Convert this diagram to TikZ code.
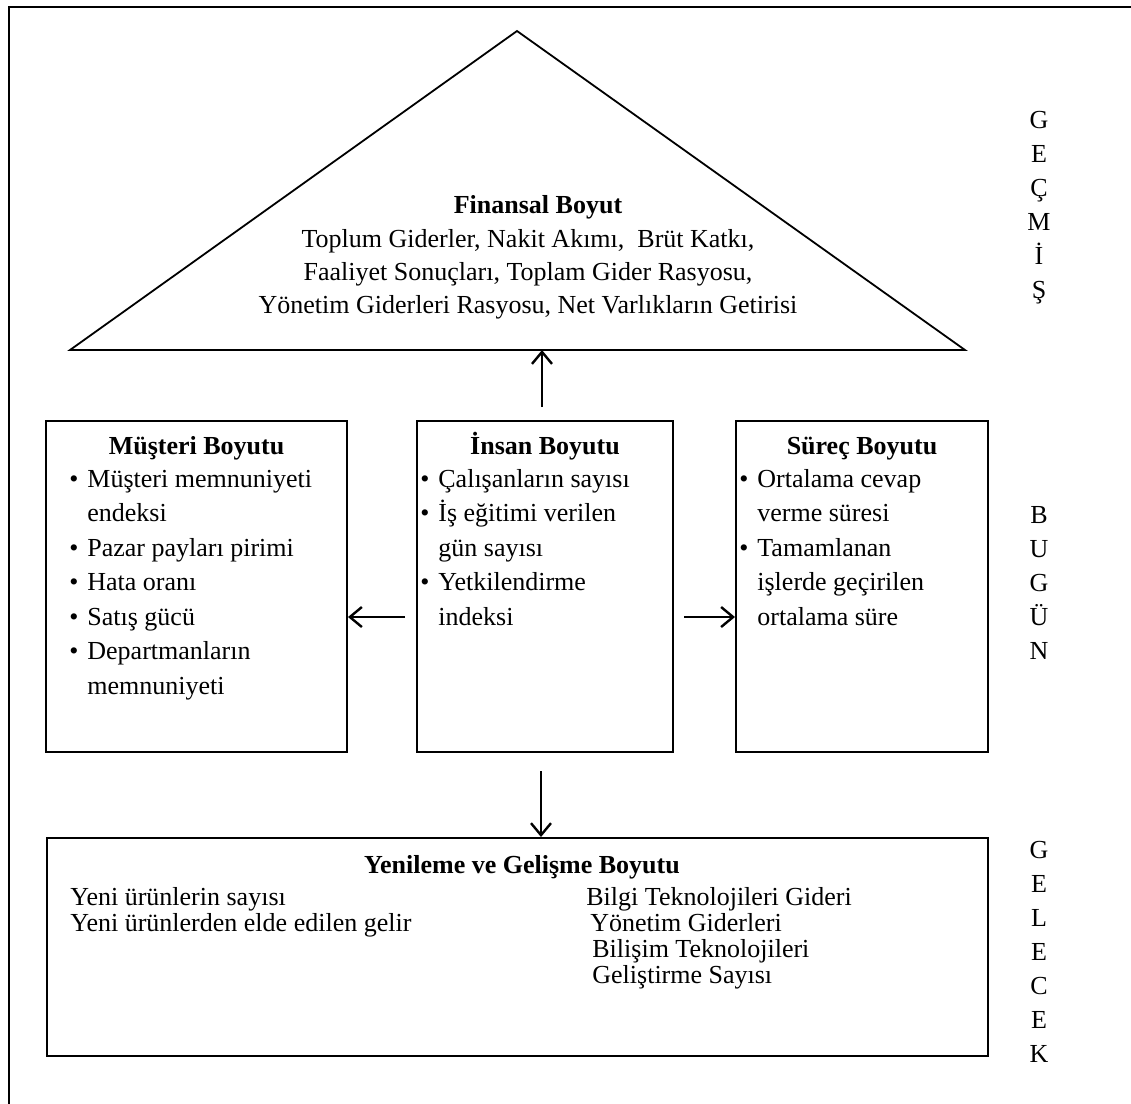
\documentclass[tikz,border=0pt]{standalone}
\usepackage{fontspec}
\setmainfont{Liberation Serif}
\usetikzlibrary{positioning}
\usetikzlibrary{arrows.meta}

\newcommand{\bul}[1]{\makebox[9pt][l]{\textbullet}#1}
\newcommand{\ind}{\hspace*{9pt}}

\begin{document}
\begin{tikzpicture}[x=0.5pt, y=-0.5pt,
    every node/.style={font=\fontsize{13}{17.25}\selectfont, inner sep=0pt},
    box/.style={rectangle, draw=black, line width=1pt},
    head/.style={font=\fontsize{13}{17.25}\selectfont\bfseries, anchor=base},
    items/.style={align=left, anchor=base west},
    letters/.style={align=center, anchor=base, font=\fontsize{13}{17}\selectfont},
    arrowline/.style={line width=1.2pt},
    >={Straight Barb[length=6pt, width=10pt]}]
    \useasboundingbox (0,0) rectangle (1131,1104);
    \draw [line width=1pt] (9,1104) -- (9,7) -- (1131,7);

    % financial dimension (multi-line nodes sit on their last line)
    \coordinate (apex) at (517,31);
    \coordinate (baseL) at (70,350);
    \coordinate (baseR) at (965,350);
    \draw [line width=0.9pt] (apex) -- (baseR) -- (baseL) -- cycle;
    \node [head] (finTitle) at (538,213) {Finansal Boyut};
    \node [align=center, anchor=base, font=\fontsize{13}{16.5}\selectfont] (finText) at (528,313) {Toplum Giderler, Nakit Akımı,~ Brüt Katkı,\\Faaliyet Sonuçları, Toplam Gider Rasyosu,\\Yönetim Giderleri Rasyosu, Net Varlıkların Getirisi};

    % middle row
    \node [box, minimum width=150.5pt, minimum height=165.5pt] (musteri) at (196.5,586.5) {};
    \node [box, minimum width=128pt, minimum height=165.5pt] (insan) at (545,586.5) {};
    \node [box, minimum width=126pt, minimum height=165.5pt] (surec) at (862,586.5) {};
    \node [head] (musteriTitle) at (musteri.north |- 0,454) {Müşteri Boyutu};
    \node [head] (insanTitle) at (insan.north |- 0,454) {İnsan Boyutu};
    \node [head] (surecTitle) at (surec.north |- 0,454) {Süreç Boyutu};
    \node [items] (musteriList) at (69,694) {\bul{Müşteri memnuniyeti}\\\ind endeksi\\\bul{Pazar payları pirimi}\\\bul{Hata oranı}\\\bul{Satış gücü}\\\bul{Departmanların}\\\ind memnuniyeti};
    \node [items] (insanList) at (420,625) {\bul{Çalışanların sayısı}\\\bul{İş eğitimi verilen}\\\ind gün sayısı\\\bul{Yetkilendirme}\\\ind indeksi};
    \node [items] (surecList) at (739,625) {\bul{Ortalama cevap}\\\ind verme süresi\\\bul{Tamamlanan}\\\ind işlerde geçirilen\\\ind ortalama süre};

    % bottom box
    \node [box, minimum width=470.5pt, minimum height=109pt] (yenileme) at (517.5,947) {};
    \node [head] (yenilemeTitle) at (522,873) {Yenileme ve Gelişme Boyutu};
    \node [items, font=\fontsize{13}{13}\selectfont] (yeniLeft) at (70,931) {Yeni ürünlerin sayısı\\Yeni ürünlerden elde edilen gelir};
    \node [items, font=\fontsize{13}{13}\selectfont] (yeniRight) at (586,983) {Bilgi Teknolojileri Gideri\\\hspace*{2pt}Yönetim Giderleri\\\hspace*{3pt}Bilişim Teknolojileri\\\hspace*{3pt}Geliştirme Sayısı};

    % time labels
    \node [letters] (gecmis) at (1039,298) {G\\E\\Ç\\M\\İ\\Ş};
    \node [letters] (bugun) at (1039,659) {B\\U\\G\\Ü\\N};
    \node [letters] (gelecek) at (1039,1062) {G\\E\\L\\E\\C\\E\\K};

    \coordinate (row) at (0,617);
    \draw [->, arrowline, shorten <=6.5pt] ([xshift=-1.5pt]insan.north) -- ([xshift=-1.5pt]insan.north |- baseL);
    \draw [->, arrowline, shorten <=5.5pt] (insan.west |- row) -- (musteri.east |- row);
    \draw [->, arrowline, shorten <=5pt] (insan.east |- row) -- (surec.west |- row);
    \draw [->, arrowline, shorten <=9pt] ([xshift=-2pt]insan.south) -- ([xshift=-2pt]insan.south |- yenileme.north);
\end{tikzpicture}
\end{document}
